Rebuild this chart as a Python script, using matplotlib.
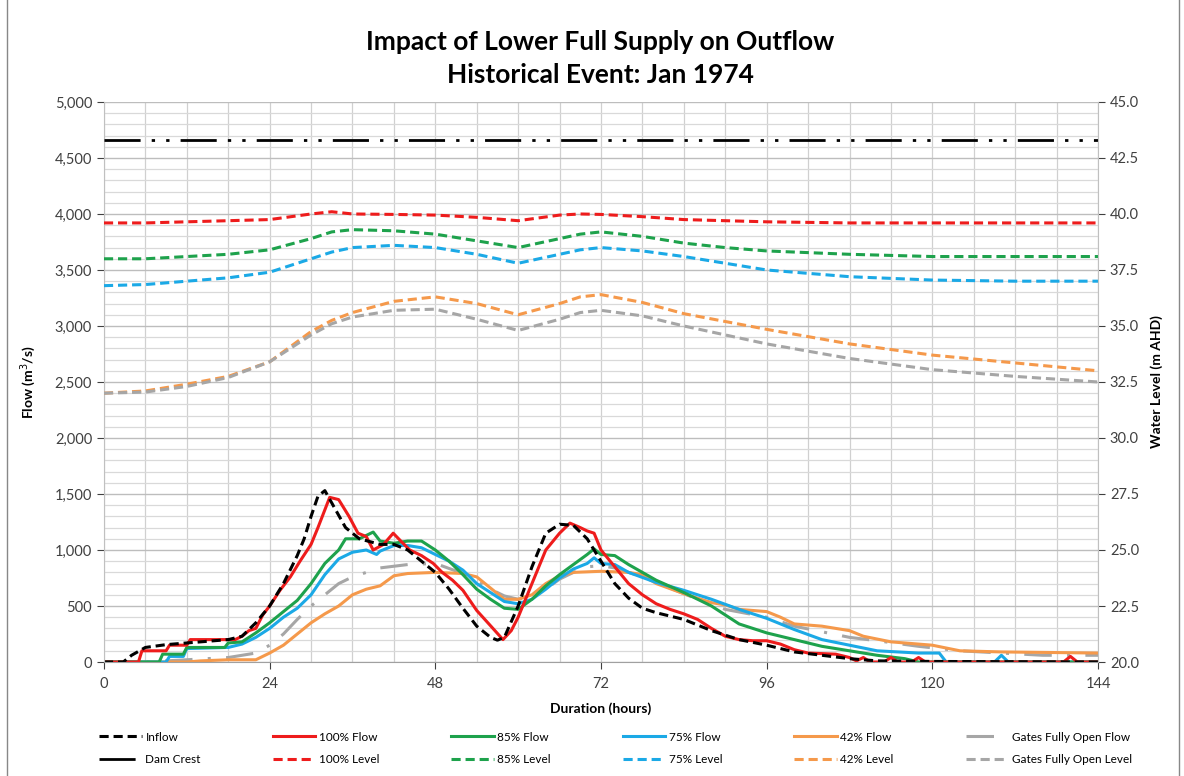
import numpy as np
import matplotlib
matplotlib.use('Agg')
import matplotlib.pyplot as plt
from matplotlib.patches import Rectangle
from matplotlib.ticker import MultipleLocator, FuncFormatter

plt.rcParams['font.family'] = ['Lato', 'DejaVu Sans']

# ---- data ----
# flows, m3/s
t_inflow = [0, 2.8, 4, 6, 9, 12, 15, 18, 20, 22, 24, 26, 28, 29, 30, 31, 32, 33, 35, 37, 40, 42, 44,
            46, 48, 50, 52, 54, 56, 57, 58, 60, 62, 64, 66, 68, 70, 72, 74, 76, 78, 80, 84, 88, 92,
            96, 100, 104, 108, 112, 120, 144]
q_inflow = [0, 0, 60, 130, 155, 170, 185, 200, 230, 350, 500, 700, 950, 1100, 1300, 1480, 1530,
            1420, 1200, 1100, 1050, 1050, 1000, 900, 800, 650, 480, 320, 220, 195, 220, 500, 850,
            1150, 1230, 1220, 1100, 900, 700, 570, 480, 440, 380, 280, 200, 150, 90, 60, 30, 10, 5, 0]

t_q100 = [0, 5, 5.5, 9, 9.5, 12, 12.5, 19, 20, 21, 22, 23, 24, 25.5, 27, 28.4, 30, 31, 32.7, 34,
          35.5, 36.8, 38, 39, 40.5, 41.9, 43, 44.3, 46, 47.7, 49, 50.5, 52, 54, 56.2, 57.8, 59, 60,
          62, 64, 66, 67.5, 69, 70, 71, 72, 74, 76, 78, 80, 82, 84, 86, 88, 90, 92, 94, 96, 98, 100,
          102, 104, 106, 108, 109, 110, 111, 113, 114, 115, 117, 118, 119, 120, 130, 139, 140, 141,
          144]
q_q100 = [0, 0, 100, 100, 150, 150, 200, 200, 230, 280, 300, 420, 500, 640, 760, 900, 1050, 1200,
          1470, 1450, 1300, 1150, 1120, 1000, 1050, 1150, 1080, 1000, 950, 880, 800, 730, 640, 460,
          310, 200, 280, 400, 700, 1000, 1150, 1240, 1200, 1170, 1150, 1000, 850, 700, 600, 520, 470,
          430, 380, 300, 230, 200, 190, 190, 160, 110, 80, 75, 70, 40, 10, 40, 0, 0, 40, 0, 0, 40, 0,
          0, 0, 0, 50, 0, 0]

t_q85 = [0, 8, 8.5, 11.5, 12, 17.5, 18, 20, 22, 24, 26, 28, 30, 32, 34, 35, 37, 38, 39, 40, 42, 44,
         46, 48, 50, 52, 54, 56, 58, 60, 62, 64, 66, 68, 70, 71, 72, 74, 76, 78, 80, 84, 88, 90, 92,
         96, 100, 104, 108, 112, 116, 118, 144]
q_q85 = [0, 0, 70, 70, 130, 130, 170, 180, 260, 350, 450, 550, 700, 880, 1000, 1100, 1100, 1130,
         1160, 1080, 1060, 1080, 1080, 1000, 900, 780, 650, 560, 480, 470, 560, 680, 780, 870, 960,
         1010, 960, 950, 870, 800, 730, 620, 500, 420, 340, 260, 200, 140, 100, 60, 30, 0, 0]

t_q75 = [0, 9, 9.5, 11.5, 12, 18, 20, 22, 24, 26, 28, 30, 32, 34, 36, 38, 39.5, 40, 42, 44, 46, 48,
         50, 52, 54, 56, 58, 60, 62, 64, 66, 68, 70, 71, 72, 74, 76, 80, 84, 88, 92, 96, 100, 104,
         108, 112, 118, 121, 122, 129, 130, 131, 144]
q_q75 = [0, 0, 50, 50, 120, 130, 160, 220, 300, 400, 480, 600, 780, 920, 980, 1000, 960, 990, 1040,
         1040, 1020, 960, 900, 820, 700, 620, 540, 520, 560, 650, 750, 830, 880, 930, 880, 870, 800,
         710, 640, 560, 470, 390, 290, 200, 150, 100, 80, 80, 0, 0, 60, 0, 0]

t_q42 = [0, 12, 14, 18, 22, 24, 26, 28, 30, 32, 34, 36, 38, 40, 42, 44, 48, 52, 54, 56, 58, 60, 62,
         64, 66, 68, 72, 76, 78, 80, 84, 88, 90, 92, 96, 98, 100, 104, 108, 110, 114, 120, 124, 130,
         144]
q_q42 = [0, 0, 10, 20, 20, 80, 150, 250, 350, 430, 500, 600, 650, 680, 770, 790, 800, 790, 760, 660,
         560, 560, 600, 700, 770, 800, 810, 800, 780, 700, 610, 530, 510, 470, 450, 400, 340, 320,
         280, 230, 180, 150, 100, 90, 80]

t_qgate = [0, 6, 12, 18, 22, 24, 26, 28, 30, 32, 34, 36, 38, 40, 44, 48, 52, 54, 56, 58, 60, 62, 64,
           66, 68, 70, 72, 74, 78, 82, 86, 90, 96, 100, 104, 108, 112, 118, 124, 130, 136, 144]
q_qgate = [0, 0, 20, 40, 80, 150, 250, 380, 500, 600, 700, 760, 800, 840, 870, 880, 790, 720, 650,
           590, 560, 580, 650, 740, 800, 850, 860, 840, 760, 660, 560, 470, 400, 320, 270, 220, 190,
           140, 100, 80, 60, 60]

# water levels, m AHD
t_lvl = [0, 6, 12, 18, 24, 30, 33, 36, 42, 48, 54, 60, 66, 69, 72, 78, 84, 90, 96, 108, 120, 132, 144]
lvl100 = [39.6, 39.6, 39.65, 39.7, 39.75, 40.0, 40.1, 40.0, 39.98, 39.95, 39.85, 39.7, 39.95, 40.0,
          39.98, 39.88, 39.75, 39.7, 39.65, 39.6, 39.6, 39.6, 39.6]
lvl85 = [38.0, 38.0, 38.1, 38.2, 38.4, 38.9, 39.2, 39.3, 39.25, 39.1, 38.8, 38.5, 38.9, 39.1, 39.2,
         39.0, 38.7, 38.5, 38.35, 38.2, 38.1, 38.1, 38.1]
lvl75 = [36.8, 36.85, 37.0, 37.15, 37.4, 38.0, 38.3, 38.5, 38.6, 38.5, 38.2, 37.8, 38.2, 38.4, 38.5,
         38.35, 38.1, 37.8, 37.5, 37.2, 37.05, 37.0, 37.0]
lvl42 = [32.0, 32.1, 32.4, 32.75, 33.4, 34.75, 35.25, 35.6, 36.1, 36.3, 36.0, 35.5, 36.0, 36.3, 36.4,
         36.05, 35.55, 35.2, 34.85, 34.2, 33.7, 33.35, 33.0]
lvlgate = [32.0, 32.05, 32.3, 32.7, 33.4, 34.6, 35.1, 35.4, 35.7, 35.75, 35.3, 34.8, 35.3, 35.6,
           35.7, 35.45, 35.0, 34.6, 34.2, 33.55, 33.05, 32.75, 32.5]
dam_crest = 43.3

RED, GREEN, BLUE, ORANGE, GRAY = '#ee1c1c', '#1ea24c', '#1ba9e6', '#f5994b', '#a6a6a6'

fig = plt.figure(figsize=(11.84, 7.76), dpi=100)
ax = fig.add_axes([0.0878, 0.1469, 0.8396, 0.7217])
ax2 = ax.twinx()

dash = (0, (3, 1.6))
lw = 2.2

# levels on right axis
ax2.plot([0, 144], [dam_crest, dam_crest], color='black', lw=2,
         linestyle=(0, (13, 4, 1.2, 4, 1.2, 4)), label='Dam Crest')
ax2.plot(t_lvl, lvl100, color=RED, lw=lw, linestyle=dash, label='100% Level')
ax2.plot(t_lvl, lvl85, color=GREEN, lw=lw, linestyle=dash, label='85% Level')
ax2.plot(t_lvl, lvl75, color=BLUE, lw=lw, linestyle=dash, label='75% Level')
ax2.plot(t_lvl, lvl42, color=ORANGE, lw=lw, linestyle=dash, label='42% Level')
ax2.plot(t_lvl, lvlgate, color=GRAY, lw=lw, linestyle=dash, label='Gates Fully Open Level')

# flows on left axis
ax.plot(t_qgate, q_qgate, color=GRAY, lw=lw, linestyle=(0, (9, 5, 1, 5)), label='Gates Fully Open Flow')
ax.plot(t_q42, q_q42, color=ORANGE, lw=lw, label='42% Flow')
ax.plot(t_q75, q_q75, color=BLUE, lw=lw, label='75% Flow')
ax.plot(t_q85, q_q85, color=GREEN, lw=lw, label='85% Flow')
ax.plot(t_q100, q_q100, color=RED, lw=lw, label='100% Flow')
ax.plot(t_inflow, q_inflow, color='black', lw=lw, linestyle=dash, label='Inflow')

ax.set_xlim(0, 144)
ax.set_ylim(0, 5000)
ax2.set_ylim(20, 45)

ax.xaxis.set_major_locator(MultipleLocator(24))
ax.xaxis.set_minor_locator(MultipleLocator(6))
ax.yaxis.set_major_locator(MultipleLocator(500))
ax.yaxis.set_minor_locator(MultipleLocator(100))
ax2.yaxis.set_major_locator(MultipleLocator(2.5))
ax.yaxis.set_major_formatter(FuncFormatter(lambda v, p: f'{v:,.0f}'))
ax2.yaxis.set_major_formatter(FuncFormatter(lambda v, p: f'{v:.1f}'))

ax.grid(which='both', axis='x', color='#d0d0d0', lw=0.9)
ax.grid(which='major', axis='y', color='#bdbdbd', lw=1.0)
ax.grid(which='minor', axis='y', color='#d9d9d9', lw=0.9)
ax.set_axisbelow(True)

for a in (ax, ax2):
    for s in a.spines.values():
        s.set_visible(False)
    a.tick_params(which='both', labelsize=10.5, colors='#404040', length=5, width=0.8)
    a.tick_params(which='minor', length=0)
ax.spines['bottom'].set_visible(True)
ax.spines['bottom'].set_color('#a0a0a0')
ax.spines['left'].set_visible(True)
ax.spines['left'].set_color('#c0c0c0')
ax2.spines['right'].set_visible(True)
ax2.spines['right'].set_color('#c0c0c0')
ax.tick_params(axis='x', pad=6)

ax.set_xlabel('Duration (hours)', fontsize=10, fontweight='bold', labelpad=8)
ax.set_ylabel('Flow (m$^3$/s)', fontsize=10, fontweight='bold', labelpad=12)
ax2.set_ylabel('Water Level (m AHD)', fontsize=10, fontweight='bold', labelpad=8)

fig.text(0.507, 0.946, 'Impact of Lower Full Supply on Outflow', ha='center', va='center',
         fontsize=19, fontweight='bold')
fig.text(0.507, 0.903, 'Historical Event: Jan 1974', ha='center', va='center',
         fontsize=19, fontweight='bold')

# legend, two rows by six columns
h1, l1 = ax.get_legend_handles_labels()
h2, l2 = ax2.get_legend_handles_labels()
hd = dict(zip(l1 + l2, h1 + h2))
order = ['Inflow', 'Dam Crest', '100% Flow', '100% Level', '85% Flow', '85% Level',
         '75% Flow', '75% Level', '42% Flow', '42% Level', 'Gates Fully Open Flow',
         'Gates Fully Open Level']
fig.legend([hd[k] for k in order], order, ncol=6, loc='lower left',
           bbox_to_anchor=(0.075, 0.0, 0.89, 0.08), mode='expand', frameon=False,
           fontsize=8.5, handlelength=3.6, handletextpad=0.3, labelspacing=1.0)

fig.add_artist(Rectangle((0.006, -0.01), 0.99, 1.02, transform=fig.transFigure,
                         fill=False, edgecolor='#888888', lw=1))

fig.savefig('out.png', dpi=100)
